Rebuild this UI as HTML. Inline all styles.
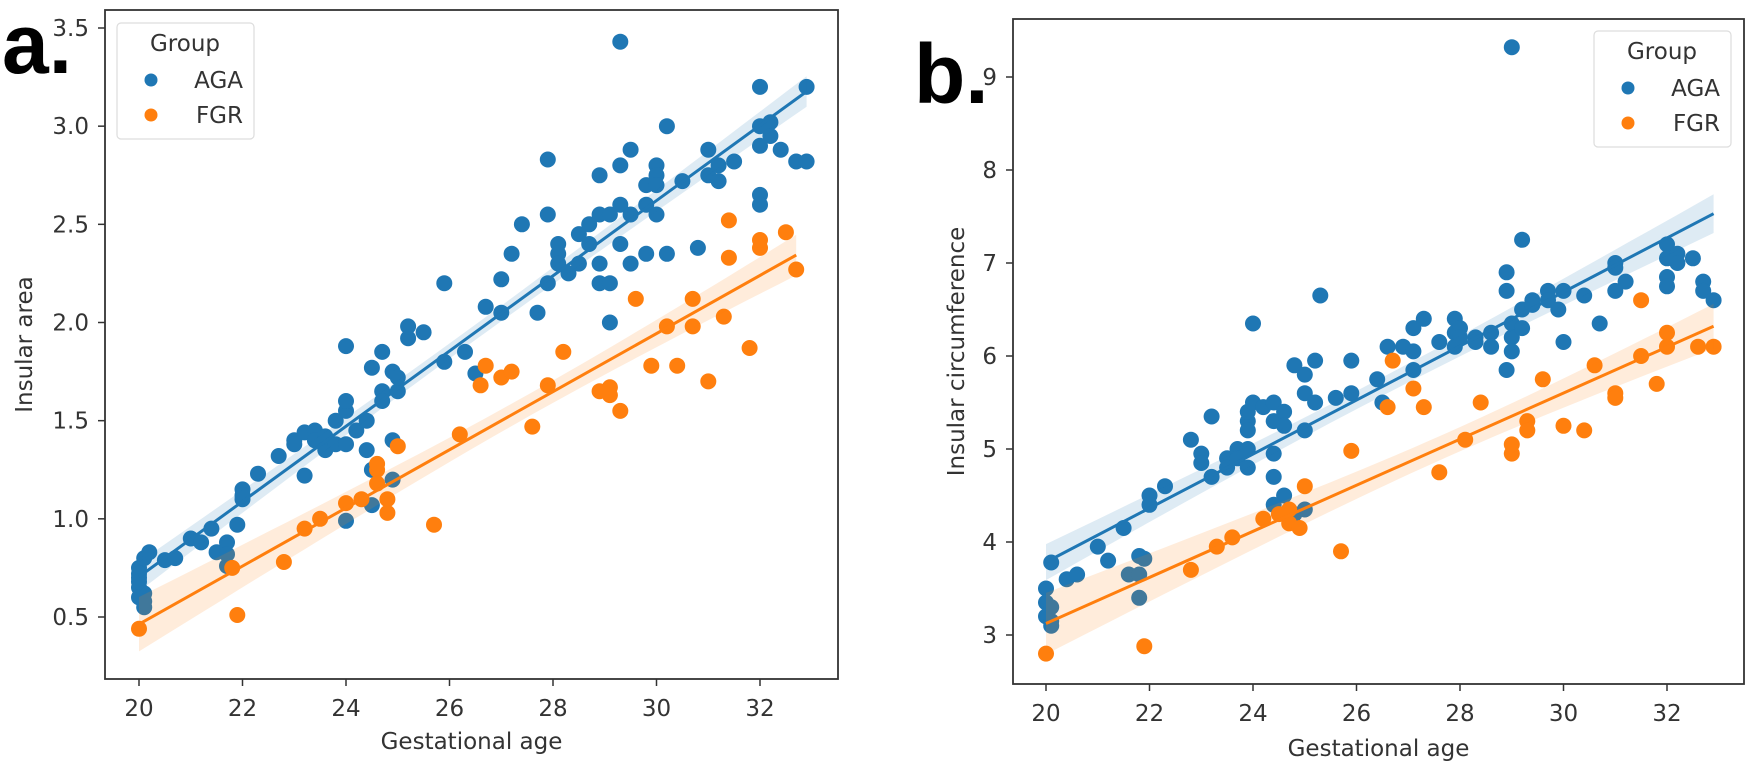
<!DOCTYPE html>
<html><head><meta charset="utf-8"><style>
html,body{margin:0;padding:0;background:#fff;}
svg{display:block;font-family:"DejaVu Sans","Liberation Sans",sans-serif;}
</style></head><body>
<svg id="chart" width="1755" height="763" viewBox="0 0 1755 763" xmlns="http://www.w3.org/2000/svg"></svg>
<script>
// Panel A data
const aAgaAge=[20,20,20,20,20,20,20.1,20.1,20.1,20.1,20.2,20.5,20.7,21,21.2,21.4,21.5,21.7,21.7,21.7,21.9,22,22,22,22.3,22.7,23,23,23.2,23.2,23.4,23.4,23.6,23.6,23.8,23.8,24,24,24,24,24,24.2,24.4,24.4,24.5,24.5,24.5,24.7,24.7,24.7,24.9,24.9,24.9,25,25,25.2,25.2,25.5,25.9,25.9,26.3,26.5,26.7,27,27,27.2,27.4,27.7,27.9,27.9,27.9,28.1,28.1,28.1,28.3,28.5,28.5,28.7,28.7,28.9,28.9,28.9,28.9,29.1,29.1,29.1,29.3,29.3,29.3,29.3,29.5,29.5,29.5,29.8,29.8,29.8,30,30,30,30,30.2,30.2,30.5,30.8,31,31,31.2,31.2,31.5,32,32,32,32,32,32.2,32.2,32.4,32.7,32.9,32.9];
const aAgaVal=[0.75,0.7,0.65,0.6,0.72,0.68,0.8,0.62,0.55,0.58,0.83,0.79,0.8,0.9,0.88,0.95,0.83,0.88,0.82,0.76,0.97,1.1,1.15,1.12,1.23,1.32,1.4,1.38,1.44,1.22,1.45,1.4,1.35,1.42,1.38,1.5,1.55,1.6,1.88,1.38,0.99,1.45,1.5,1.35,1.77,1.25,1.07,1.65,1.85,1.6,1.4,1.75,1.2,1.65,1.72,1.92,1.98,1.95,2.2,1.8,1.85,1.74,2.08,2.05,2.22,2.35,2.5,2.05,2.83,2.55,2.2,2.4,2.35,2.3,2.25,2.45,2.3,2.5,2.4,2.75,2.55,2.3,2.2,2.55,2.0,2.2,3.43,2.8,2.6,2.4,2.88,2.55,2.3,2.7,2.6,2.35,2.8,2.75,2.7,2.55,3.0,2.35,2.72,2.38,2.88,2.75,2.72,2.8,2.82,3.2,3.0,2.9,2.65,2.6,3.02,2.95,2.88,2.82,3.2,2.82];
const aFgrAge=[20,21.8,21.9,22.8,23.2,23.5,24,24.3,24.6,24.6,24.6,24.8,24.8,25,25.7,26.2,26.6,26.7,27,27.2,27.6,27.9,28.2,28.9,29.1,29.1,29.3,29.6,29.9,30.2,30.4,30.7,30.7,31,31.3,31.4,31.4,31.8,32,32,32.5,32.7];
const aFgrVal=[0.44,0.75,0.51,0.78,0.95,1.0,1.08,1.1,1.25,1.28,1.18,1.1,1.03,1.37,0.97,1.43,1.68,1.78,1.72,1.75,1.47,1.68,1.85,1.65,1.67,1.63,1.55,2.12,1.78,1.98,1.78,2.12,1.98,1.7,2.03,2.52,2.33,1.87,2.38,2.42,2.46,2.27];
const aXTicks=[20,22,24,26,28,30,32];
const aYTicks=[0.5,1.0,1.5,2.0,2.5,3.0,3.5];
const aYTickLabels=["0.5","1.0","1.5","2.0","2.5","3.0","3.5"];
// Panel B data
const bAgaAge=[20,20,20,20.1,20.1,20.1,20.1,20.4,20.6,21,21.2,21.5,21.6,21.8,21.8,21.8,21.9,22,22,22.3,22.8,23,23,23.2,23.2,23.5,23.5,23.7,23.7,23.9,23.9,23.9,23.9,23.9,24,24,24.2,24.4,24.4,24.4,24.4,24.4,24.6,24.6,24.6,24.8,24.8,25,25,25,25,25.2,25.2,25.3,25.6,25.9,25.9,26.4,26.5,26.6,26.9,27.1,27.1,27.1,27.3,27.6,27.9,27.9,27.9,28,28,28.3,28.3,28.6,28.6,28.9,28.9,28.9,29,29,29,29,29.2,29.2,29.2,29.4,29.4,29.7,29.7,29.9,30,30,30.4,30.7,31,31,31,31.2,32,32,32,32,32.2,32.2,32.5,32.7,32.7,32.9];
const bAgaVal=[3.5,3.35,3.2,3.3,3.15,3.1,3.78,3.6,3.65,3.95,3.8,4.15,3.65,3.85,3.65,3.4,3.82,4.5,4.4,4.6,5.1,4.95,4.85,5.35,4.7,4.9,4.8,5.0,4.9,5.3,5.4,5.2,5.0,4.8,6.35,5.5,5.45,5.5,5.3,4.95,4.7,4.4,5.4,5.25,4.5,5.9,4.3,5.8,5.6,5.2,4.35,5.95,5.5,6.65,5.55,5.95,5.6,5.75,5.5,6.1,6.1,6.3,6.05,5.85,6.4,6.15,6.4,6.25,6.1,6.3,6.2,6.2,6.15,6.25,6.1,6.9,6.7,5.85,9.32,6.35,6.2,6.05,7.25,6.5,6.3,6.6,6.55,6.7,6.6,6.5,6.7,6.15,6.65,6.35,7.0,6.95,6.7,6.8,7.2,7.05,6.85,6.75,7.1,7.0,7.05,6.8,6.7,6.6];
const bFgrAge=[20,21.9,22.8,23.3,23.6,24.2,24.5,24.7,24.7,24.9,25,25.7,25.9,26.6,26.7,27.1,27.3,27.6,28.1,28.4,29,29,29.3,29.3,29.6,30,30.4,30.6,31,31,31.5,31.5,31.8,32,32,32.6,32.9];
const bFgrVal=[2.8,2.88,3.7,3.95,4.05,4.25,4.3,4.2,4.35,4.15,4.6,3.9,4.98,5.45,5.95,5.65,5.45,4.75,5.1,5.5,4.95,5.05,5.3,5.2,5.75,5.25,5.2,5.9,5.6,5.55,6.6,6.0,5.7,6.25,6.1,6.1,6.1];
const bXTicks=[20,22,24,26,28,30,32];
const bYTicks=[3,4,5,6,7,8,9];
const bYTickLabels=["3","4","5","6","7","8","9"];

const NS="http://www.w3.org/2000/svg";
const svg=document.getElementById('chart');
function mk(tag,attrs,parent){const e=document.createElementNS(NS,tag);for(const k in attrs)e.setAttribute(k,attrs[k]);(parent||svg).appendChild(e);return e;}
const BLUE="#1f77b4",ORANGE="#ff7f0e";

function fit(xs,ys){const n=xs.length;let mx=0,my=0;for(let i=0;i<n;i++){mx+=xs[i];my+=ys[i];}mx/=n;my/=n;let sxx=0,sxy=0;for(let i=0;i<n;i++){sxx+=(xs[i]-mx)**2;sxy+=(xs[i]-mx)*(ys[i]-my);}const b=sxy/sxx,a=my-b*mx;let ss=0;for(let i=0;i<n;i++){ss+=(ys[i]-a-b*xs[i])**2;}const s=Math.sqrt(ss/(n-2));return{a,b,mx,sxx,s,n};}

function panel(p){
  const g=mk('g',{});
  
  
  const X=v=>p.x0px+(v-p.x0v)*(p.x1px-p.x0px)/(p.x1v-p.x0v);
  const Y=v=>p.y0px+(v-p.y0v)*(p.y1px-p.y0px)/(p.y1v-p.y0v);
  const groups=[[p.aga[0],p.aga[1],BLUE,'aga'],[p.fgr[0],p.fgr[1],ORANGE,'fgr']];
  groups.forEach(([xs,ys,c,nm])=>{
    const pg=mk('g',{},g);
    
    
    for(let i=0;i<xs.length;i++){
      const d=mk('circle',{cx:X(xs[i]).toFixed(1),cy:Y(ys[i]).toFixed(1),r:8,fill:c},pg);
      
      
    }
  });
  groups.forEach(([xs,ys,c,nm])=>{
    const f=fit(xs,ys);const lo=Math.min(...xs),hi=Math.max(...xs);
    const up=[],dn=[];
    for(let k=0;k<=40;k++){const x=lo+(hi-lo)*k/40;const yh=f.a+f.b*x;const se=1.96*f.s*Math.sqrt(1/f.n+(x-f.mx)**2/f.sxx);up.push(X(x).toFixed(1)+','+Y(yh+se).toFixed(1));dn.unshift(X(x).toFixed(1)+','+Y(yh-se).toFixed(1));}
    const band=mk('polygon',{points:up.concat(dn).join(' '),fill:c,'fill-opacity':0.15},g);
    
    
    const ln=mk('line',{x1:X(lo),y1:Y(f.a+f.b*lo),x2:X(hi),y2:Y(f.a+f.b*hi),stroke:c,'stroke-width':3},g);
    
    
  });
  const fr=mk('rect',{x:p.L,y:p.T,width:p.R-p.L,height:p.B-p.T,fill:'none',stroke:'#333','stroke-width':1.8},g);
  
  
  p.xt.forEach(v=>{
    mk('line',{x1:X(v),x2:X(v),y1:p.B,y2:p.B+7,stroke:'#333','stroke-width':1.5},g);
    const t=mk('text',{x:X(v),y:p.B+37,'text-anchor':'middle','font-size':23,fill:'#333'},g);
    t.textContent=String(v);
    
    
  });
  p.yt.forEach((v,i)=>{
    mk('line',{x1:p.L-7,x2:p.L,y1:Y(v),y2:Y(v),stroke:'#333','stroke-width':1.5},g);
    const t=mk('text',{x:p.L-16,y:Y(v)+8,'text-anchor':'end','font-size':23,fill:'#333'},g);
    t.textContent=p.ytl[i];
    
    
  });
  const xl=mk('text',{x:(p.L+p.R)/2,y:p.xlY,'text-anchor':'middle','font-size':23,fill:'#333'},g);
  xl.textContent='Gestational age';
  
  
  const yl=mk('text',{x:0,y:0,'text-anchor':'middle','font-size':23,fill:'#333',transform:`translate(${p.ylX},${(p.T+p.B)/2}) rotate(-90)`},g);
  yl.textContent=p.ylabel;
  
  
  const lg=mk('g',{},g);
  
  
  mk('rect',{x:p.lgX,y:p.lgY,width:137,height:116,rx:4,fill:'#fff','fill-opacity':0.85,stroke:'#ddd','stroke-width':1.2},lg);
  const tt=mk('text',{x:p.lgX+68,y:p.lgY+28,'text-anchor':'middle','font-size':23,fill:'#333'},lg);
  tt.textContent='Group';
  
  
  [['AGA',BLUE],['FGR',ORANGE]].forEach(([lab,c],i)=>{
    const yy=p.lgY+57+i*35;
    const m=mk('circle',{cx:p.lgX+34,cy:yy,r:6.5,fill:c},lg);
    
    
    const t=mk('text',{x:p.lgX+126,y:yy+8,'text-anchor':'end','font-size':23,fill:'#333'},lg);
    t.textContent=lab;
    
    
  });
  const pl=mk('text',{x:p.plX,y:p.plY,'font-size':84,'font-weight':'bold',fill:'#000','font-family':'Liberation Sans, sans-serif'},g);
  pl.textContent=p.panelLabel;
  
  
}

panel({name:'panel-a',aga:[aAgaAge,aAgaVal],fgr:[aFgrAge,aFgrVal],xt:aXTicks,yt:aYTicks,ytl:aYTickLabels,
  x0v:20,x1v:32,x0px:139,x1px:760,y0v:0.5,y1v:3.5,y0px:617,y1px:28,L:105,R:838,T:10,B:679,
  xlY:749,ylX:32,ylabel:'Insular area',lgX:117,lgY:23,panelLabel:'a.',plX:2,plY:73});
panel({name:'panel-b',aga:[bAgaAge,bAgaVal],fgr:[bFgrAge,bFgrVal],xt:bXTicks,yt:bYTicks,ytl:bYTickLabels,
  x0v:20,x1v:32,x0px:1046,x1px:1667,y0v:3,y1v:9,y0px:635,y1px:77,L:1013,R:1744,T:19,B:684,
  xlY:756,ylX:964,ylabel:'Insular circumference',lgX:1594,lgY:31,panelLabel:'b.',plX:914,plY:103});
</script>
</body></html>
